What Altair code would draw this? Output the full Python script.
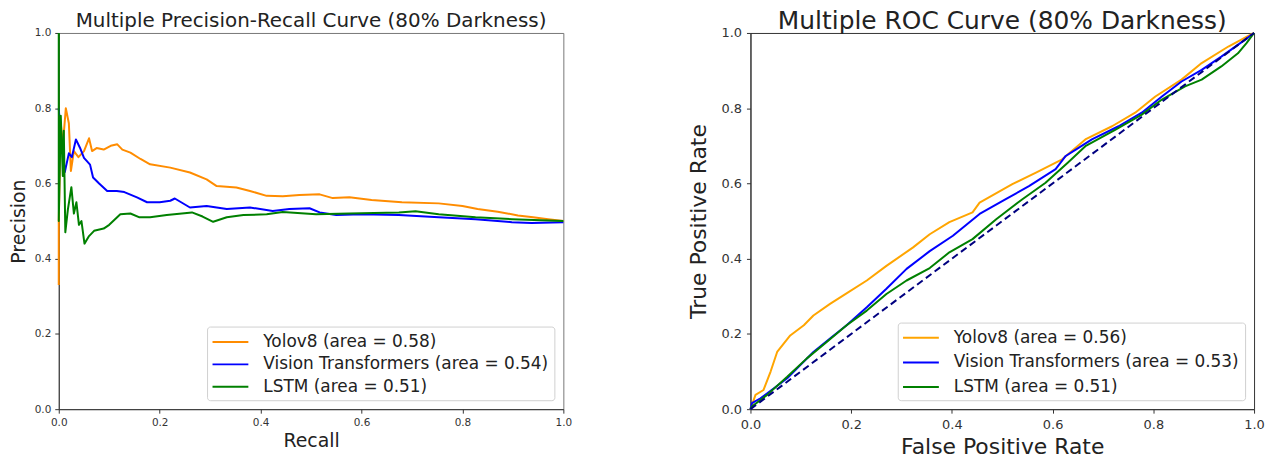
import altair as alt
import pandas as pd

FONT = "DejaVu Sans"

# ---------------- Precision-Recall data ----------------
pr_labels = ["Yolov8 (area = 0.58)", "Vision Transformers (area = 0.54)", "LSTM (area = 0.51)"]
pr_colors = ["#ff8c00", "#0000ff", "#008000"]

pr_yolo_recall = [0, 0, 0.004, 0.008, 0.014, 0.02, 0.024, 0.03, 0.039, 0.05, 0.06, 0.066, 0.075, 0.089, 0.103,
                  0.116, 0.126, 0.142, 0.162, 0.181, 0.221, 0.26, 0.293, 0.313, 0.352, 0.379, 0.412, 0.444, 0.477,
                  0.517, 0.543, 0.576, 0.62, 0.68, 0.753, 0.80, 0.83, 0.87, 0.91, 0.94, 0.97, 1.0]
pr_yolo_prec = [0.33, 0.5, 0.76, 0.70, 0.80, 0.76, 0.633, 0.686, 0.67, 0.686, 0.72, 0.686, 0.694, 0.69, 0.70,
                0.704, 0.69, 0.682, 0.665, 0.651, 0.642, 0.629, 0.611, 0.593, 0.589, 0.58, 0.567, 0.566, 0.569,
                0.571, 0.561, 0.563, 0.556, 0.55, 0.547, 0.54, 0.532, 0.525, 0.515, 0.51, 0.505, 0.5]

pr_vit_recall = [0, 0.001, 0.006, 0.012, 0.02, 0.026, 0.034, 0.042, 0.05, 0.062, 0.068, 0.08, 0.096, 0.115, 0.13,
                 0.155, 0.175, 0.2, 0.221, 0.23, 0.26, 0.293, 0.333, 0.379, 0.424, 0.457, 0.497, 0.517, 0.55, 0.6,
                 0.674, 0.753, 0.826, 0.898, 0.937, 1.0]
pr_vit_prec = [0.80, 0.78, 0.71, 0.63, 0.68, 0.67, 0.717, 0.695, 0.668, 0.65, 0.616, 0.60, 0.58, 0.58, 0.577,
               0.563, 0.55, 0.55, 0.554, 0.56, 0.536, 0.54, 0.532, 0.536, 0.527, 0.532, 0.534, 0.523, 0.516, 0.518,
               0.516, 0.51, 0.505, 0.497, 0.495, 0.497]

pr_lstm_recall = [0, 0, 0.004, 0.008, 0.010, 0.013, 0.018, 0.025, 0.030, 0.035, 0.040, 0.045, 0.051, 0.06, 0.07,
                  0.089, 0.10, 0.122, 0.142, 0.16, 0.181, 0.214, 0.264, 0.285, 0.306, 0.333, 0.366, 0.412, 0.444,
                  0.51, 0.576, 0.674, 0.707, 0.753, 0.826, 0.898, 1.0]
pr_lstm_prec = [1.0, 0.5, 0.78, 0.62, 0.74, 0.47, 0.53, 0.59, 0.52, 0.55, 0.49, 0.50, 0.44, 0.46, 0.474,
                0.48, 0.49, 0.518, 0.52, 0.51, 0.51, 0.516, 0.523, 0.512, 0.498, 0.51, 0.516, 0.518, 0.524,
                0.518, 0.52, 0.523, 0.526, 0.518, 0.51, 0.505, 0.5]

# ---------------- ROC data ----------------
roc_labels = ["Yolov8 (area = 0.56)", "Vision Transformers (area = 0.53)", "LSTM (area = 0.51)"]
roc_colors = ["#ffa500", "#0000ff", "#008000"]

roc_yolo_fpr = [0, 0.003, 0.01, 0.026, 0.04, 0.053, 0.079, 0.106, 0.125, 0.158, 0.19, 0.231, 0.27, 0.323, 0.356,
                0.395, 0.441, 0.455, 0.52, 0.567, 0.619, 0.665, 0.718, 0.764, 0.804, 0.856, 0.896, 0.949, 0.995, 1.0]
roc_yolo_tpr = [0, 0.011, 0.038, 0.051, 0.10, 0.152, 0.196, 0.223, 0.249, 0.28, 0.307, 0.342, 0.381, 0.43, 0.465,
                0.497, 0.523, 0.549, 0.598, 0.629, 0.664, 0.717, 0.752, 0.788, 0.831, 0.876, 0.92, 0.964, 0.997, 1.0]

roc_vit_fpr = [0, 0.003, 0.02, 0.046, 0.073, 0.099, 0.125, 0.158, 0.191, 0.231, 0.27, 0.31, 0.356, 0.402, 0.455,
               0.507, 0.553, 0.606, 0.626, 0.646, 0.678, 0.731, 0.777, 0.817, 0.856, 0.896, 0.935, 0.981, 1.0]
roc_vit_tpr = [0, 0.016, 0.029, 0.055, 0.082, 0.117, 0.152, 0.188, 0.223, 0.271, 0.32, 0.373, 0.42, 0.461, 0.519,
               0.558, 0.593, 0.638, 0.673, 0.69, 0.717, 0.752, 0.788, 0.831, 0.871, 0.902, 0.937, 0.981, 1.0]

roc_lstm_fpr = [0, 0.003, 0.033, 0.073, 0.112, 0.152, 0.191, 0.231, 0.27, 0.31, 0.356, 0.395, 0.441, 0.488, 0.54,
                0.586, 0.63, 0.665, 0.725, 0.777, 0.817, 0.863, 0.896, 0.935, 0.968, 0.985, 1.0]
roc_lstm_tpr = [0, 0.007, 0.038, 0.086, 0.135, 0.179, 0.223, 0.262, 0.306, 0.342, 0.375, 0.417, 0.452, 0.505, 0.558,
                0.602, 0.655, 0.699, 0.743, 0.783, 0.823, 0.858, 0.876, 0.911, 0.946, 0.973, 1.0]

diag_x = [0, 1]
diag_y = [0, 1]

ticks = [0, 0.2, 0.4, 0.6, 0.8, 1.0]


def build(series):
    rows = []
    for name, xs, ys in series:
        for i, (a, b) in enumerate(zip(xs, ys)):
            rows.append({"series": name, "x": a, "y": b, "i": i})
    return pd.DataFrame(rows)


pr_df = build([(pr_labels[0], pr_yolo_recall, pr_yolo_prec),
               (pr_labels[1], pr_vit_recall, pr_vit_prec),
               (pr_labels[2], pr_lstm_recall, pr_lstm_prec)])
roc_df = build([(roc_labels[0], roc_yolo_fpr, roc_yolo_tpr),
                (roc_labels[1], roc_vit_fpr, roc_vit_tpr),
                (roc_labels[2], roc_lstm_fpr, roc_lstm_tpr)])
diag_df = pd.DataFrame({"x": diag_x, "y": diag_y})


def axis(title, label_size, title_size, label_pad, title_pad):
    return alt.Axis(title=title, values=ticks, format=".1f", grid=False,
                    labelFont=FONT, titleFont=FONT, labelFontSize=label_size, titleFontSize=title_size,
                    titleFontWeight="normal", labelColor="#333", titleColor="#222",
                    tickSize=4, tickColor="#333", domainColor="#333", domainWidth=1,
                    labelPadding=label_pad, titlePadding=title_pad, labelFlush=False, labelOverlap=False)


def legend(row_pad, pad, offset):
    return alt.Legend(title=None, orient="bottom-right", offset=offset, padding=pad,
                      labelFont=FONT, labelFontSize=17, labelColor="#222", labelLimit=400,
                      symbolType="M-2,0L2,0", symbolSize=324, symbolStrokeWidth=2,
                      symbolOffset=8, labelOffset=23, rowPadding=row_pad,
                      strokeColor="#d0d0d0", fillColor="white", cornerRadius=3)


scale = alt.Scale(domain=[0, 1], nice=False, zero=False)

pr_chart = alt.Chart(pr_df).mark_line(strokeWidth=2, strokeJoin="round").encode(
    x=alt.X("x:Q", scale=scale, axis=axis("Recall", 10.5, 19, 4, 4)),
    y=alt.Y("y:Q", scale=scale, axis=axis("Precision", 10.5, 19, 4, 6)),
    color=alt.Color("series:N", scale=alt.Scale(domain=pr_labels, range=pr_colors),
                    legend=legend(4.5, 5.5, 9)),
    order="i:Q",
).properties(
    width=507, height=378,
    title=alt.Title("Multiple Precision-Recall Curve (80% Darkness)", font=FONT, fontSize=20,
                    fontWeight="normal", color="#222", offset=-3, anchor="middle"),
    view=alt.ViewBackground(stroke="#777", strokeWidth=1),
)

roc_lines = alt.Chart(roc_df).mark_line(strokeWidth=2, strokeJoin="round").encode(
    x=alt.X("x:Q", scale=scale, axis=axis("False Positive Rate", 13, 22, 5, 6)),
    y=alt.Y("y:Q", scale=scale, axis=axis("True Positive Rate", 13, 22, 5, 10)),
    color=alt.Color("series:N", scale=alt.Scale(domain=roc_labels, range=roc_colors),
                    legend=legend(6.7, 5.3, 9)),
    order="i:Q",
)
roc_diag = alt.Chart(diag_df).mark_line(color="#000080", strokeWidth=2, strokeDash=[7, 4]).encode(
    x="x:Q", y="y:Q"
)
roc_chart = alt.layer(roc_lines, roc_diag).properties(
    width=506, height=378,
    title=alt.Title("Multiple ROC Curve (80% Darkness)", font=FONT, fontSize=25,
                    fontWeight="normal", color="#222", offset=-7, anchor="middle"),
    view=alt.ViewBackground(stroke="#333", strokeWidth=1),
)

chart = alt.hconcat(pr_chart, roc_chart, spacing=115).resolve_scale(
    color="independent").resolve_legend(color="independent").properties(
    padding={"left": 0, "top": -1, "right": 0, "bottom": 0}
).configure(background="white")

chart.save("out.html", embed_options={"renderer": "svg", "actions": False})
